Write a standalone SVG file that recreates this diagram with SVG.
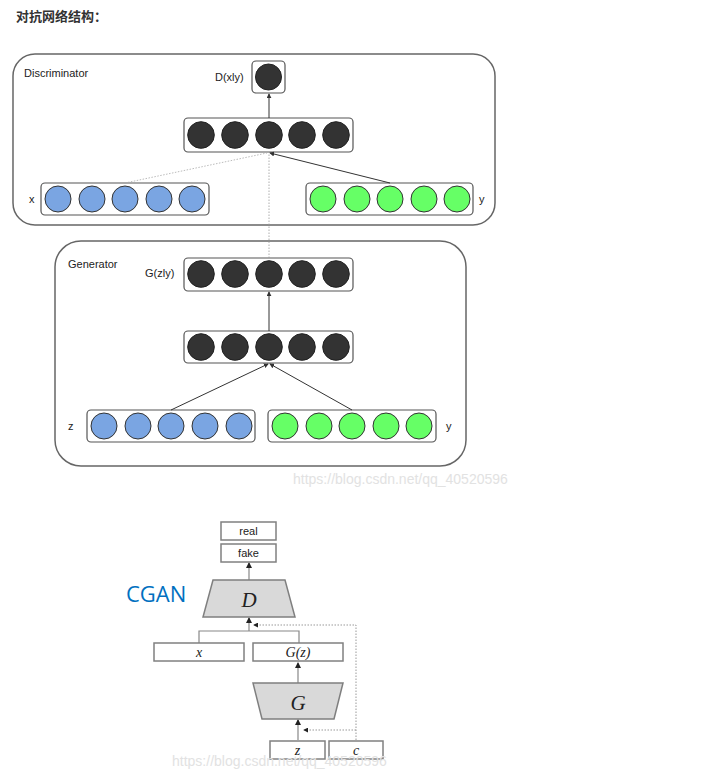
<svg xmlns="http://www.w3.org/2000/svg" width="724" height="775" viewBox="0 0 724 775">
<defs>
<marker id="ah" viewBox="0 0 6 6" refX="5" refY="3" markerWidth="5" markerHeight="5" orient="auto"><path d="M0,0 L6,3 L0,6 z" fill="#333"/></marker>
<marker id="ahg" viewBox="0 0 6 6" refX="5" refY="3" markerWidth="5" markerHeight="5" orient="auto"><path d="M0,0 L6,3 L0,6 z" fill="#222"/></marker>
<style>
.t{font-family:"Liberation Sans",Arial,sans-serif;fill:#222;font-size:11px}
.big{fill:#fff;stroke:#666;stroke-width:1.5}
.row{fill:#fff;stroke:#555;stroke-width:1.2}
.dk{fill:#333;stroke:#222;stroke-width:1}
.bl{fill:#7aa5e2;stroke:#333;stroke-width:1}
.gr{fill:#66ff66;stroke:#333;stroke-width:1}
.cb{fill:#fff;stroke:#808080;stroke-width:1.5}
.tr{fill:#d9d9d9;stroke:#7f7f7f;stroke-width:1.5}
.m{font-family:"Liberation Serif","Times New Roman",serif;font-style:italic;fill:#222;text-anchor:middle}
.wm{font-family:"Liberation Sans",Arial,sans-serif;font-size:14px;fill:#e2e2e2}
.c{stroke:#333;stroke-width:1;fill:none}
.cg{stroke:#888;stroke-width:1.2;fill:none}
</style>
</defs>
<text x="16" y="21" font-family="'Noto Sans CJK SC',sans-serif" font-size="13" font-weight="bold" fill="#333">对抗网络结构：</text>

<g id="discriminator">
<rect class="big" x="13" y="54" width="482" height="171" rx="22"/>
<text class="t" x="24" y="77">Discriminator</text>
</g>
<g id="d-out">
<text class="t" x="215" y="81">D(xly)</text>
<rect class="row" x="252" y="61" width="33" height="32" rx="4"/>
<circle class="dk" cx="268.5" cy="77" r="13"/>
</g>
<g id="d-hidden">
<rect class="row" x="184" y="118" width="169" height="34" rx="4"/>
<circle class="dk" cx="201" cy="135" r="13.3"/><circle class="dk" cx="235" cy="135" r="13.3"/><circle class="dk" cx="269" cy="135" r="13.3"/><circle class="dk" cx="302" cy="135" r="13.3"/><circle class="dk" cx="336" cy="135" r="13.3"/>
</g>
<g id="d-x">
<text class="t" x="29" y="203">x</text>
<rect class="row" x="41" y="183" width="168" height="32" rx="4"/>
<circle class="bl" cx="58" cy="199" r="13"/><circle class="bl" cx="92" cy="199" r="13"/><circle class="bl" cx="125" cy="199" r="13"/><circle class="bl" cx="159" cy="199" r="13"/><circle class="bl" cx="192" cy="199" r="13"/>
</g>
<g id="d-y">
<rect class="row" x="306" y="183" width="167" height="32" rx="4"/>
<circle class="gr" cx="323" cy="199" r="13"/><circle class="gr" cx="357" cy="199" r="13"/><circle class="gr" cx="390" cy="199" r="13"/><circle class="gr" cx="424" cy="199" r="13"/><circle class="gr" cx="457" cy="199" r="13"/>
<text class="t" x="479" y="203">y</text>
</g>

<g id="generator">
<rect class="big" x="55" y="241" width="411" height="225" rx="26"/>
<text class="t" x="68" y="268">Generator</text>
</g>
<g id="g-out">
<text class="t" x="145" y="277">G(zly)</text>
<rect class="row" x="184" y="258" width="169" height="33" rx="4"/>
<circle class="dk" cx="201" cy="274" r="13.3"/><circle class="dk" cx="235" cy="274" r="13.3"/><circle class="dk" cx="269" cy="274" r="13.3"/><circle class="dk" cx="302" cy="274" r="13.3"/><circle class="dk" cx="336" cy="274" r="13.3"/>
</g>
<g id="g-hidden">
<rect class="row" x="184" y="331" width="169" height="32" rx="4"/>
<circle class="dk" cx="201" cy="347" r="13.3"/><circle class="dk" cx="235" cy="347" r="13.3"/><circle class="dk" cx="269" cy="347" r="13.3"/><circle class="dk" cx="302" cy="347" r="13.3"/><circle class="dk" cx="336" cy="347" r="13.3"/>
</g>
<g id="g-z">
<text class="t" x="68" y="430">z</text>
<rect class="row" x="87" y="410" width="168" height="32" rx="4"/>
<circle class="bl" cx="104" cy="426" r="13"/><circle class="bl" cx="138" cy="426" r="13"/><circle class="bl" cx="171" cy="426" r="13"/><circle class="bl" cx="205" cy="426" r="13"/><circle class="bl" cx="239" cy="426" r="13"/>
</g>
<g id="g-y">
<rect class="row" x="268" y="410" width="168" height="32" rx="4"/>
<circle class="gr" cx="285" cy="426" r="13"/><circle class="gr" cx="319" cy="426" r="13"/><circle class="gr" cx="352" cy="426" r="13"/><circle class="gr" cx="386" cy="426" r="13"/><circle class="gr" cx="419" cy="426" r="13"/>
<text class="t" x="446" y="430">y</text>
</g>

<g id="connectors">
<line class="c" x1="269" y1="118" x2="269" y2="94" marker-end="url(#ah)"/>
<line class="c" x1="390" y1="183" x2="270" y2="153" marker-end="url(#ah)"/>
<line x1="125" y1="183" x2="267" y2="153" stroke="#aaa" stroke-width="0.8" stroke-dasharray="1.5,1.5"/>
<line x1="269" y1="258" x2="269" y2="154" stroke="#999" stroke-width="0.8" stroke-dasharray="1.5,1.5"/>
<line class="c" x1="269" y1="331" x2="269" y2="292" marker-end="url(#ah)"/>
<line class="c" x1="171" y1="410" x2="268" y2="364" marker-end="url(#ah)"/>
<line class="c" x1="352" y1="410" x2="270" y2="364" marker-end="url(#ah)"/>

<line class="cg" x1="249" y1="580" x2="249" y2="563" marker-end="url(#ahg)"/>
<polyline class="cg" points="199,643 199,631 299,631 299,643"/>
<line class="cg" x1="249" y1="631" x2="249" y2="618" marker-end="url(#ahg)"/>
<polyline points="356,740 356,625 254,625" fill="none" stroke="#999" stroke-width="1" stroke-dasharray="1.5,1.5" marker-end="url(#ahg)"/>
<line class="cg" x1="298" y1="683" x2="298" y2="663" marker-end="url(#ahg)"/>
<line class="cg" x1="298" y1="740" x2="298" y2="720" marker-end="url(#ahg)"/>
<line x1="356" y1="730" x2="304" y2="730" stroke="#999" stroke-width="1" stroke-dasharray="1.5,1.5" marker-end="url(#ahg)"/>
</g>

<text class="wm" x="293" y="484">https://blog.csdn.net/qq_40520596</text>

<text x="126" y="602" font-family="'Open Sans','Liberation Sans',sans-serif" font-size="22" fill="#0070c0">CGAN</text>
<g id="real">
<rect class="cb" x="221" y="522" width="55" height="18"/>
<text class="t" x="248.5" y="535" text-anchor="middle" font-size="11">real</text>
</g>
<g id="fake">
<rect class="cb" x="221" y="544" width="55" height="18"/>
<text class="t" x="248.5" y="557" text-anchor="middle" font-size="11">fake</text>
</g>
<g id="D">
<polygon class="tr" points="213,580 285,580 295,617 203,617"/>
<text class="m" x="249" y="607" font-size="21">D</text>
</g>
<g id="x">
<rect class="cb" x="154" y="643" width="90" height="18"/>
<text class="m" x="199" y="657" font-size="14">x</text>
</g>
<g id="Gz">
<rect class="cb" x="253" y="643" width="90" height="18"/>
<text class="m" x="298" y="657" font-size="14">G(z)</text>
</g>
<g id="G">
<polygon class="tr" points="253,683 343,683 334,719 262,719"/>
<text class="m" x="298" y="710" font-size="21">G</text>
</g>
<g id="z">
<rect class="cb" x="270" y="741" width="55" height="18"/>
<text class="m" x="297.5" y="755" font-size="14">z</text>
</g>
<g id="c">
<rect class="cb" x="329" y="741" width="54" height="18"/>
<text class="m" x="356" y="755" font-size="14">c</text>
</g>
<text class="wm" x="172" y="766">https://blog.csdn.net/qq_40520596</text>
</svg>
